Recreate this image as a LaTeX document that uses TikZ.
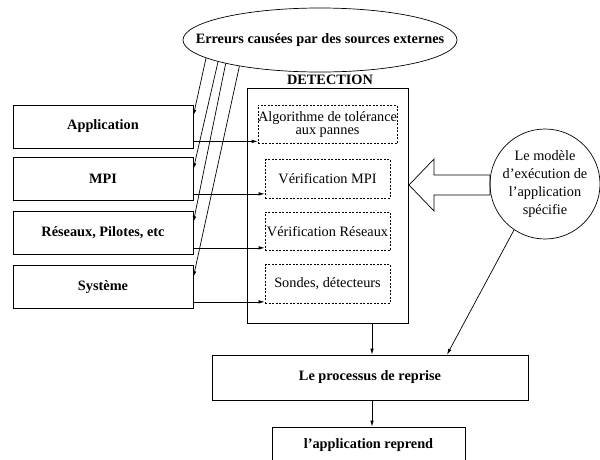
\documentclass[tikz,border=0pt]{standalone}
\usepackage{fontspec}
\setmainfont{Liberation Serif}
\usetikzlibrary{arrows.meta,shapes.geometric}
\begin{document}
\begin{tikzpicture}[x=1pt,y=-1pt,
  every node/.style={font=\fontsize{14.3}{16}\selectfont},
  thinline/.style={line width=0.7pt},
  arr/.style={line width=0.7pt,-{Latex[length=6pt,width=3.5pt]}},
  srcbox/.style={draw,line width=0.7pt,minimum width=180pt,minimum height=43pt,inner sep=0pt,
    font=\fontsize{14.3}{16}\selectfont\bfseries},
  chkbox/.style={draw,line width=0.6pt,dash pattern=on 2pt off 1.5pt,minimum width=125pt,
    minimum height=38.5pt,inner sep=0pt,align=center},
  plainbox/.style={draw,line width=0.7pt,inner sep=0pt,font=\fontsize{14.3}{16}\selectfont\bfseries}
]
\useasboundingbox (0,0) rectangle (600,459);
\clip (0,0) rectangle (600,459);

% external error sources
\node[ellipse,draw,thinline,minimum width=274pt,minimum height=64pt,inner sep=0pt] (src) at (320,40)
  {\makebox[0pt]{\bfseries Erreurs causées par des sources externes}};

% layers of the stack
\node[srcbox] (app) at (103,126.5) {Application};
\node[srcbox] (mpi) at (103,179) {MPI};
\node[srcbox] (net) at (103,233) {Réseaux, Pilotes, etc};
\node[srcbox] (sys) at (103,287) {Système};

% detection block
\node[plainbox,minimum width=161pt,minimum height=235pt] (det) at (327.5,205.5) {};
\node[font=\fontsize{14.3}{16}\selectfont\bfseries] (dettitle) at (330,80) {DETECTION};

\node[chkbox,font=\fontsize{14.3}{13.5}\selectfont] (d1) at (327.5,124.5) {Algorithme de tolérance\\aux pannes};
\node[chkbox] (d2) at (327.5,179) {Vérification MPI};
\node[chkbox] (d3) at (327.5,231.5) {Vérification Réseaux};
\node[chkbox] (d4) at (327.5,284) {Sondes, détecteurs};

% execution model
\node[circle,draw,thinline,minimum size=110pt,inner sep=0pt] (model) at (545,184)
  {\makebox[0pt]{\fontsize{14.3}{18}\selectfont\begin{tabular}{@{}c@{}}Le modèle\\d’exécution de\\l’application\\spécifie\end{tabular}}};

% recovery
\node[plainbox,minimum width=316pt,minimum height=45pt] (rep) at (370,377.5) {Le processus de reprise};
\node[plainbox,minimum width=193pt,minimum height=36pt] (res) at (368.5,445) {l’application reprend};

% errors reaching each layer
\draw[arr] (src.189.5) -- ([yshift=-11pt]app.north east);
\draw[arr] (src.192) -- ([yshift=-12pt]mpi.north east);
\draw[arr] (src.194.5) -- ([yshift=-11pt]net.north east);
\draw[arr] (src.198) -- ([yshift=-12pt]sys.north east);

% layers feeding the checks
\draw[arr] ([yshift=7pt]app.south east) coordinate (a1) -- (a1 -| d1.west);
\draw[arr] ([yshift=7pt]mpi.south east) coordinate (a2) -- (a2 -| d2.west);
\draw[arr] ([yshift=7pt]net.south east) coordinate (a3) -- (a3 -| d3.west);
\draw[arr] ([yshift=7pt]sys.south east) coordinate (a4) -- (a4 -| d4.west);

% hollow arrow from the model into the detection block
\draw[thinline] (409,185) -- (434,159) -- (434,175) -- (490,175) -- (490,195)
  -- (434,195) -- (434,211) -- cycle;

% flow to recovery
\draw[arr] (det.south -| rep.north) ++(2pt,0) coordinate (b1) -- (b1 |- rep.north);
\draw[arr] (model.236) -- ([xshift=77pt]rep.north);
\draw[arr] ([xshift=2pt]rep.south) -- ([xshift=2pt]rep.south |- res.north);
\end{tikzpicture}
\end{document}
